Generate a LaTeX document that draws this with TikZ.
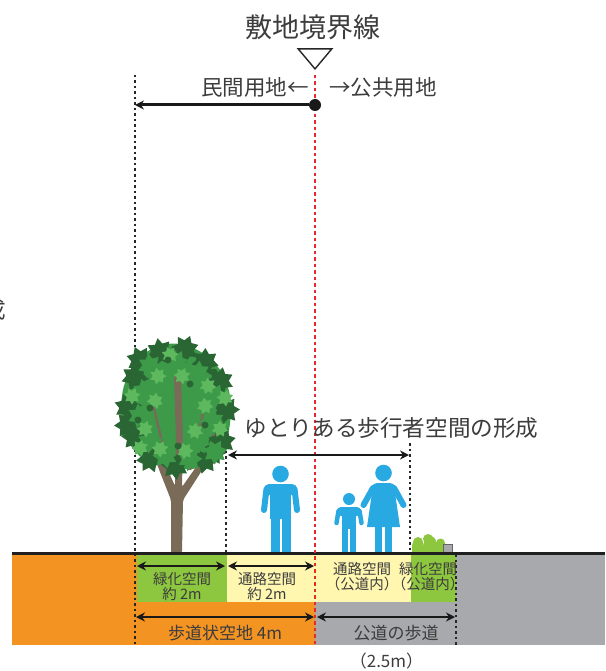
\documentclass[tikz,border=0pt]{standalone}
\usepackage{fontspec}
\setmainfont{Noto Sans CJK JP}
\usetikzlibrary{arrows.meta,shapes.geometric}

\definecolor{txtgray}{HTML}{3C3C3C}
\definecolor{soilorange}{HTML}{F39322}
\definecolor{plantgreen}{HTML}{8DC63F}
\definecolor{pathyellow}{HTML}{FFF6B0}
\definecolor{roadgray}{HTML}{A7A9AC}
\definecolor{boundred}{HTML}{E8282B}
\definecolor{personblue}{HTML}{29A9E1}
\definecolor{trunkbrown}{HTML}{7A6A58}
\definecolor{leafdeep}{HTML}{2A6534}
\definecolor{leafdark}{HTML}{317A3C}
\definecolor{leafmid}{HTML}{3C9A49}
\definecolor{leaflight}{HTML}{5DB85E}

\tikzset{
  txt/.style={text=txtgray, inner sep=0pt},
  bandlabel/.style={txt, align=center, font=\fontsize{14.5}{15}\selectfont},
  dimline/.style={line width=2.5pt, draw=black!90,
    {Stealth[length=9pt,width=9pt]}-{Stealth[length=9pt,width=9pt]}},
  blackdots/.style={line width=2.5pt, draw=black!85, dash pattern=on 2.5pt off 3pt},
  reddots/.style={line width=2.3pt, draw=boundred, dash pattern=on 3.5pt off 3pt},
  leaf/.style={star, star points=7, star point ratio=1.6, minimum size=28pt,
    inner sep=0pt, draw=none},
  person/.style={fill=personblue, draw=none},
}

\begin{document}
\begin{tikzpicture}[x=1pt,y=-1pt]
\useasboundingbox (0,0) rectangle (605,671);

% ---- ground bands ----
\fill[soilorange] (12,554) rectangle (315,645);
\fill[plantgreen] (137,554) rectangle (227,602);
\fill[pathyellow] (227,554) rectangle (315,602);
\fill[pathyellow] (315,554) rectangle (411,602);
\fill[plantgreen] (411,554) rectangle (456,602);
\fill[roadgray] (315,602) rectangle (456,645);
\fill[roadgray] (456,554) rectangle (605,645);

% ---- reference lines ----
\coordinate (bTop) at (315,75);
\coordinate (bBot) at (315,645);
\coordinate (pTop) at (135,75);
\coordinate (pBot) at (135,645);
\coordinate (gTop) at (226,445);
\coordinate (gBot) at (226,552);
\coordinate (wTop) at (410,443);
\coordinate (wBot) at (410,552);
\coordinate (rTop) at (456,554);
\coordinate (rBot) at (456,645);
\draw[blackdots] (pTop) -- (pBot);
\draw[blackdots] (gTop) -- (gBot);
\draw[blackdots] (wTop) -- (wBot);
\draw[blackdots] (rTop) -- (rBot);

% ---- tree ----
% canopy mass behind the leaves
\fill[leafmid, rounded corners=10pt]
  (150,348) -- (175,342) -- (200,350) -- (222,370) -- (231,396) -- (230,430)
  -- (218,460) -- (195,470) -- (170,468) -- (142,460) -- (126,440) -- (120,410)
  -- (124,382) -- (136,362) -- cycle;
\fill[trunkbrown, rounded corners=2pt]
  (171,553) -- (171,500) -- (160,472) -- (148,440) -- (153,438) -- (166,466)
  -- (175,486) -- (176,440) -- (174,375) -- (181,375) -- (183,440) -- (182,487)
  -- (196,467) -- (213,433) -- (218,436) -- (201,472) -- (183,500) -- (182,553) -- cycle;
\draw[trunkbrown, line width=2.5pt] (165,455) -- (152,400);
\draw[trunkbrown, line width=2.5pt] (190,470) -- (205,405);

\foreach \x/\y/\r [count=\i] in {
  160/352/10, 185/349/30, 205/362/50, 135/377/5, 220/381/40, 128/407/20,
  226/410/15, 135/437/35, 222/441/25, 150/459/45, 205/460/12, 175/466/33,
  140/360/22, 212/452/8, 128/425/41}
  \node[leaf, fill=leafdeep, rotate=\r] (leafA\i) at (\x,\y) {};
\foreach \x/\y/\r [count=\i] in {
  150/366/8, 176/362/22, 198/373/44, 145/391/17, 195/393/38,
  215/396/27, 140/416/11, 212/421/41, 150/441/19,
  198/443/9, 215/452/24, 165/456/37, 190/459/14}
  \node[leaf, fill=leafmid, rotate=\r, minimum size=25pt] (leafB\i) at (\x,\y) {};
\foreach \x/\y/\r [count=\i] in {
  158/376/12, 182/376/31, 208/386/4, 132/396/26, 155/401/42, 205/406/7,
  145/429/35, 195/431/46, 220/429/2, 160/449/28, 185/451/16, 140/448/39,
  170/355/20, 225/398/33}
  \node[leaf, fill=leaflight, rotate=\r, minimum size=17pt] (leafC\i) at (\x,\y) {};
\foreach \x/\y [count=\i] in {
  168/360, 190/384, 150/408, 205/425, 178/446, 138/420, 214/372}
  \node[circle, fill=leafdeep, minimum size=7pt, inner sep=0pt] (leafD\i) at (\x,\y) {};

% ---- bush and kerb ----
\fill[plantgreen] (412,552) -- (412,546) arc[start angle=180, end angle=0, radius=6pt]
  -- (424,542) arc[start angle=180, end angle=0, radius=6pt]
  -- (436,543) arc[start angle=180, end angle=0, radius=4.5pt] -- (445,552) -- cycle;
\fill[plantgreen] (418,542) circle[radius=5pt] (428,539) circle[radius=5pt];
\filldraw[fill=roadgray, draw=black!60, line width=0.5pt] (443,544) rectangle (452,552);

% ---- people ----
% man
\fill[person] (280.5,474) circle[radius=8.3pt];
\fill[person, rounded corners=5pt] (264,495) -- (264,484) -- (297,484) -- (297,495) -- cycle;
\fill[person] (270,490) rectangle (291,519);
\draw[personblue, line width=6pt, line cap=round] (266.5,489) -- (264,510);
\draw[personblue, line width=6pt, line cap=round] (294.5,489) -- (297,510);
\fill[person] (270.5,515) rectangle (279.5,552);
\fill[person] (281.5,515) rectangle (290.5,552);
% child
\fill[person] (349,499) circle[radius=6pt];
\fill[person, rounded corners=4pt] (337,516) -- (337,507) -- (361,507) -- (361,516) -- cycle;
\fill[person] (342,511) rectangle (356,529);
\draw[personblue, line width=4.5pt, line cap=round] (338.5,511) -- (336.5,523);
\draw[personblue, line width=4.5pt, line cap=round] (359.5,511) -- (361.5,523);
\fill[person] (342,526) rectangle (348.3,552);
\fill[person] (349.7,526) rectangle (356,552);
% woman
\fill[person] (383.5,473) circle[radius=8.3pt];
\fill[person, rounded corners=4pt] (370,492) -- (373,483) -- (394,483) -- (397,492) -- cycle;
\fill[person] (373,486) -- (394,486) -- (400,527) -- (367,527) -- cycle;
\draw[personblue, line width=6pt, line cap=round] (373,488) -- (363.5,505);
\draw[personblue, line width=6pt, line cap=round] (394,488) -- (403.5,505);
\fill[person] (375,525) rectangle (382,552);
\fill[person] (385,525) rectangle (392,552);

% ---- ground line ----
\coordinate (groundL) at (12,553);
\coordinate (groundR) at (605,553);
\draw[line width=3pt, black!88] (groundL) -- (groundR);

% ---- boundary ----
\draw[reddots] (bTop) -- (bBot);
\node[txt, font=\fontsize{27}{28}\selectfont] (title) at (313,27) {敷地境界線};
\node[draw=black!85, line width=1.4pt, fill=white, isosceles triangle,
  isosceles triangle apex angle=80, shape border rotate=-90, minimum height=20pt,
  minimum width=26pt, inner sep=0pt, anchor=apex] (mark) at (315,70) {};
\node[txt, font=\fontsize{21.5}{22}\selectfont, anchor=east] (priv) at (309,87) {民間用地←};
\node[txt, font=\fontsize{21.5}{22}\selectfont, anchor=west] (publ) at (329,87) {→公共用地};
\node[circle, fill=black!90, minimum size=12pt, inner sep=0pt] (bdot) at (315,105) {};
\coordinate (privEnd) at (135,105);
\draw[line width=3pt, draw=black!90, -{Stealth[length=9pt,width=9pt]}] (bdot) -- (privEnd);

% ---- wide walkway ----
\node[txt, font=\fontsize{22.6}{23}\selectfont] (wide) at (391.5,428) {ゆとりある歩行者空間の形成};
\coordinate (wideL) at (228,455);
\coordinate (wideR) at (409,455);
\draw[dimline] (wideL) -- (wideR);

% ---- edge of a neighbouring caption ----
\node[txt, font=\fontsize{22.6}{23}\selectfont, anchor=east] (edge) at (6,310) {成};

% ---- band dimensions ----
\coordinate (a1) at (137,566); \coordinate (a2) at (225,566);
\coordinate (a3) at (228,566); \coordinate (a4) at (314,566);
\coordinate (b1) at (136,617); \coordinate (b2) at (314,617);
\coordinate (b3) at (317,617); \coordinate (b4) at (455,617);
\draw[dimline] (a1) -- (a2);
\draw[dimline] (a3) -- (a4);
\draw[dimline] (b1) -- (b2);
\draw[dimline] (b3) -- (b4);

\node[bandlabel] (g1) at (182,586) {緑化空間\\約 2m};
\node[bandlabel] (y1) at (267,586) {通路空間\\約 2m};
\node[bandlabel] (y2) at (362,577) {通路空間\\（公道内）};
\node[bandlabel] (g2) at (428,577) {緑化空間\\（公道内）};
\node[txt, font=\fontsize{17}{18}\selectfont] (priv4) at (225,633) {歩道状空地 4m};
\node[txt, font=\fontsize{17}{18}\selectfont] (road) at (396,633) {公道の歩道};
\node[txt, font=\fontsize{17}{18}\selectfont] (road25) at (386.5,661) {（2.5m）};
\end{tikzpicture}
\end{document}
